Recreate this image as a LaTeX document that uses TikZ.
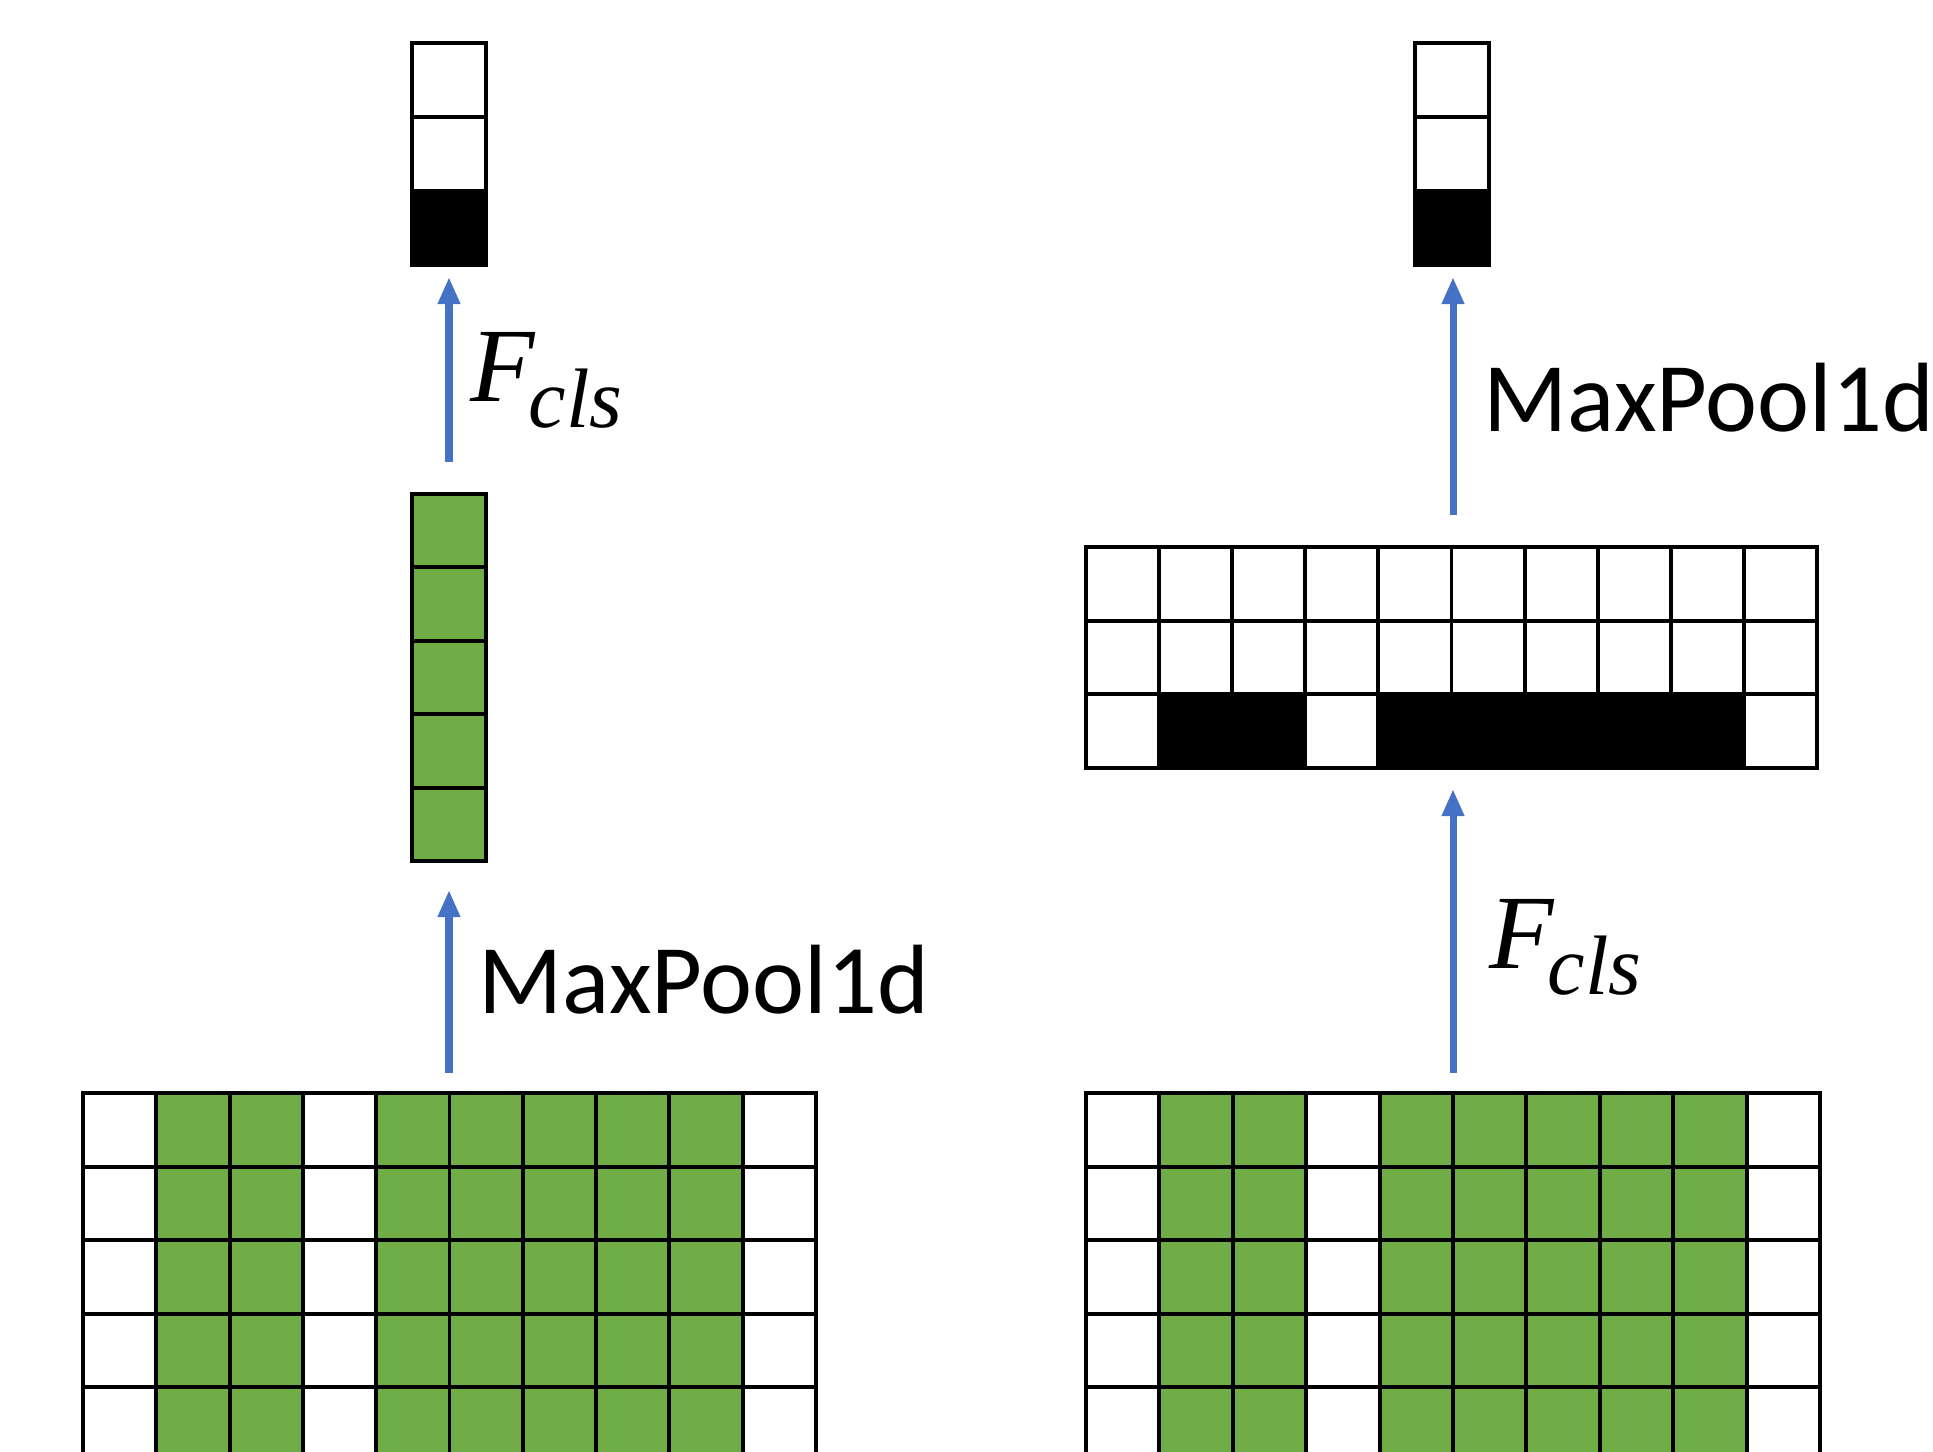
\documentclass[tikz,border=0pt]{standalone}
\usepackage{fontspec}
\setmainfont{Carlito}
\newfontfamily\mathserif{Liberation Serif}
\usetikzlibrary{arrows.meta}
\definecolor{cgreen}{HTML}{70AD47}
\definecolor{cblue}{HTML}{4472C4}
\newcommand\fcls{{\mathserif\itshape\fontsize{30}{36}\selectfont F\kern-0.06em\raisebox{-0.25em}{\fontsize{24}{28}\selectfont cls}}}
\begin{document}
\begin{tikzpicture}[x=0.01cm,y=-0.01cm,
  gridline/.style={draw=black,line width=1.1pt,line cap=rect},
  flow/.style={draw=cblue,line width=2pt,-{Triangle[length=0.27cm,width=0.21cm]}},
  lbl/.style={font=\fontsize{28}{34}\selectfont,anchor=base west,inner sep=0pt}]
\useasboundingbox (0,0) rectangle (1933,1451);
\clip (0,0) rectangle (1933,1451);

% ---------- left: top output column ----------
\fill[black] (412,{43+2*74}) rectangle ++(74,74);
\foreach \r in {0,...,3} \draw[gridline] (412,{43+74*\r}) -- ++(74,0);
\foreach \c in {0,1} \draw[gridline] ({412+74*\c},43) -- ++(0,222);

% ---------- left: green column ----------
\fill[cgreen] (412,494) rectangle ++(74,367);
\foreach \r in {0,...,5} \draw[gridline] (412,{494+73.4*\r}) -- ++(74,0);
\foreach \c in {0,1} \draw[gridline] ({412+74*\c},494) -- ++(0,367);

% ---------- left: bottom grid ----------
\foreach \c in {1,2,4,5,6,7,8} \fill[cgreen] ({83+73.3*\c},1093) rectangle ++(73.3,368);
\foreach \c in {0,...,10} \draw[gridline] ({83+73.3*\c},1093) -- ++(0,368);
\foreach \r in {0,...,4} \draw[gridline] (83,{1093+73.6*\r}) -- ++(733,0);

% ---------- right: top output column ----------
\fill[black] (1415,{43+2*74}) rectangle ++(74,74);
\foreach \r in {0,...,3} \draw[gridline] (1415,{43+74*\r}) -- ++(74,0);
\foreach \c in {0,1} \draw[gridline] ({1415+74*\c},43) -- ++(0,222);

% ---------- right: middle grid ----------
\foreach \c in {1,2,4,5,6,7,8} \fill[black] ({1086+73.1*\c},{547+2*73.7}) rectangle ++(73.1,73.7);
\foreach \c in {0,...,10} \draw[gridline] ({1086+73.1*\c},547) -- ++(0,221.1);
\foreach \r in {0,...,3} \draw[gridline] (1086,{547+73.7*\r}) -- ++(731,0);

% ---------- right: bottom grid ----------
\foreach \c in {1,2,4,5,6,7,8} \fill[cgreen] ({1086+73.4*\c},1093) rectangle ++(73.4,368);
\foreach \c in {0,...,10} \draw[gridline] ({1086+73.4*\c},1093) -- ++(0,368);
\foreach \r in {0,...,4} \draw[gridline] (1086,{1093+73.6*\r}) -- ++(734,0);

% ---------- connectors ----------
\coordinate (la1s) at (449,462);  \coordinate (la1e) at (449,277);
\coordinate (la2s) at (449,1073); \coordinate (la2e) at (449,890);
\coordinate (ra1s) at (1453,1073); \coordinate (ra1e) at (1453,789);
\coordinate (ra2s) at (1453,515);  \coordinate (ra2e) at (1453,277);
\draw[flow] (la1s) -- (la1e);
\draw[flow] (la2s) -- (la2e);
\draw[flow] (ra1s) -- (ra1e);
\draw[flow] (ra2s) -- (ra2e);

% ---------- labels ----------
\node[lbl] (lfcls) at (470,401) {\fcls};
\node[lbl] (lpool) at (478,1013) {MaxPool1d};
\node[lbl] (rpool) at (1483,431) {MaxPool1d};
\node[lbl] (rfcls) at (1489,968) {\fcls};
\end{tikzpicture}
\end{document}
